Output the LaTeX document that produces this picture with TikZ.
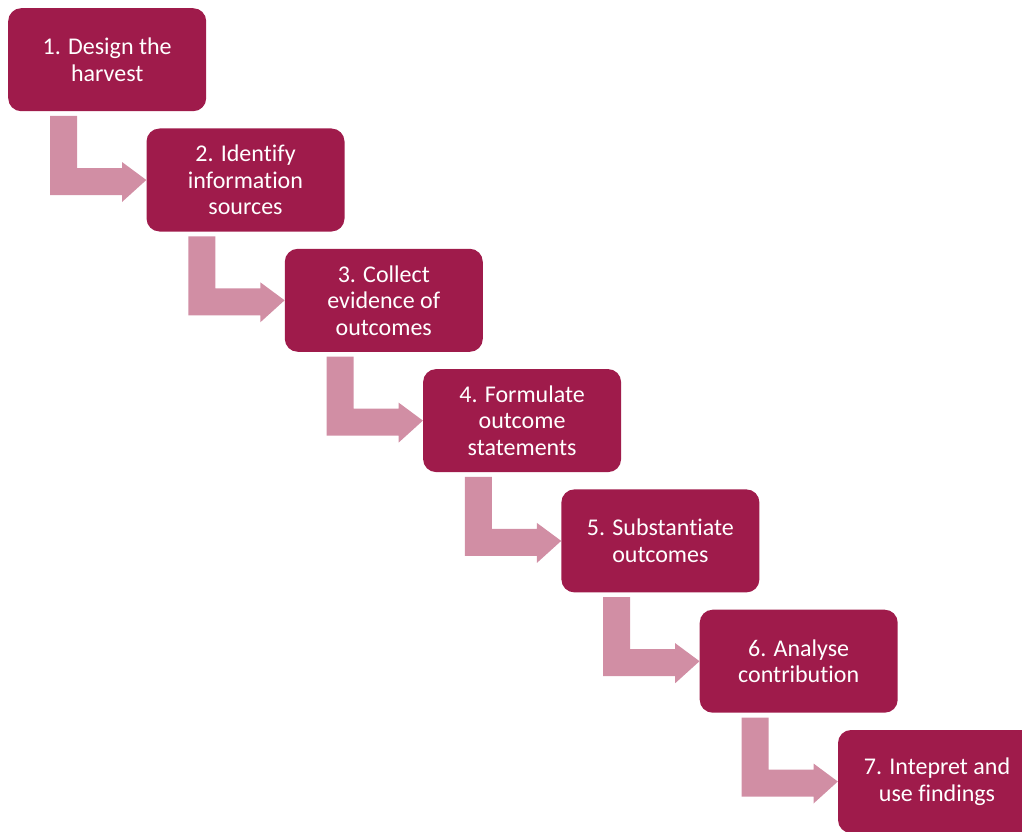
\documentclass[tikz,border=0pt]{standalone}
\usepackage{fontspec}
\setmainfont{Carlito}[Ligatures=NoCommon]
\usetikzlibrary{calc}
\definecolor{boxc}{HTML}{9F1B4B}
\definecolor{arrc}{HTML}{D18EA4}
\begin{document}
\begin{tikzpicture}[x=1pt,y=1pt,
  stepbox/.style={fill=boxc, rounded corners=13pt, minimum width=198pt, minimum height=103pt,
    anchor=north west, align=center, text=white, inner sep=0pt,
    font=\fontsize{24}{26.5}\selectfont},
  steparrow/.style={fill=arrc}]
\useasboundingbox (0,0) rectangle (1022,-832);
\clip (0,0) rectangle (1022,-832);
\node[stepbox] (b1) at (8,-8) {1. Design the\\harvest};
\node[stepbox] (b2) at (146.3,-128.3) {2. Identify\\information\\sources};
\node[stepbox] (b3) at (284.6,-248.6) {3. Collect\\evidence of\\outcomes};
\node[stepbox] (b4) at (422.9,-368.9) {4. Formulate\\outcome\\statements};
\node[stepbox] (b5) at (561.2,-489.2) {5. Substantiate\\outcomes};
\node[stepbox] (b6) at (699.5,-609.5) {6. Analyse\\contribution};
\node[stepbox] (b7) at (837.8,-729.8) {7. Intepret and\\use findings};
\foreach \a/\b in {b1/b2,b2/b3,b3/b4,b4/b5,b5/b6,b6/b7}{
  \fill[steparrow] ($(\a.north west)+(42,-108)$) -- ++(27,0) -- ++(0,-52) -- ++(45,0)
    -- ++(0,6) -- (\b.west) -- ($(\a.north west)+(114,-194)$) -- ++(0,7) -- ++(-72,0) -- cycle;
}
\end{tikzpicture}
\end{document}
